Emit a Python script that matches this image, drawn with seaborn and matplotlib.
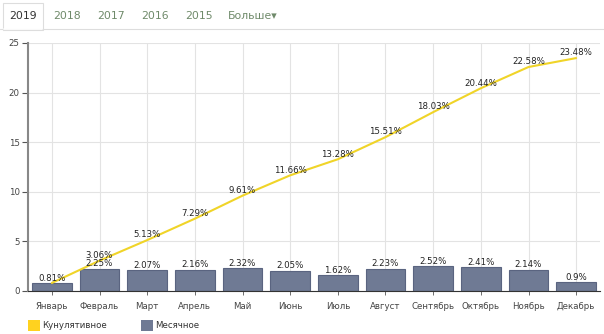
import matplotlib
matplotlib.use("Agg")
import matplotlib.pyplot as plt
import seaborn as sns
import pandas as pd
from matplotlib.patches import Rectangle
from matplotlib.lines import Line2D

months = ["Январь", "Февраль", "Март", "Апрель", "Май", "Июнь", "Июль",
          "Август", "Сентябрь", "Октябрь", "Ноябрь", "Декабрь"]
monthly = [0.81, 2.25, 2.07, 2.16, 2.32, 2.05, 1.62, 2.23, 2.52, 2.41, 2.14, 0.9]
monthly_labels = ["0.81%", "2.25%", "2.07%", "2.16%", "2.32%", "2.05%", "1.62%",
                  "2.23%", "2.52%", "2.41%", "2.14%", "0.9%"]
cumulative = [0.81, 3.06, 5.13, 7.29, 9.61, 11.66, 13.28, 15.51, 18.03, 20.44, 22.58, 23.48]
cum_labels = ["0.81%", "3.06%", "5.13%", "7.29%", "9.61%", "11.66%", "13.28%",
              "15.51%", "18.03%", "20.44%", "22.58%", "23.48%"]
tabs = ["2019", "2018", "2017", "2016", "2015", "Больше▾"]
legend_labels = ["Кунулятивное", "Месячное"]

BAR = "#6f7a94"
BAR_EDGE = "#5a6480"
LINE = "#f0d428"
FS = 6.2

sns.set_theme(style="white")
plt.rcParams['font.family'] = ['DejaVu Sans']

W, H = 604, 334
fig = plt.figure(figsize=(W / 100, H / 100), dpi=100)

def px(x0, y0, x1, y1):
    return [x0 / W, 1 - y1 / H, (x1 - x0) / W, (y1 - y0) / H]

ax = fig.add_axes(px(28, 43, 600, 291))
df = pd.DataFrame({"month": months, "monthly": monthly, "cum": cumulative})

sns.barplot(data=df, x="month", y="monthly", color=BAR, saturation=1,
            width=0.83, edgecolor=BAR_EDGE, linewidth=0.8, ax=ax, zorder=2)
sns.lineplot(x=list(range(len(months))), y=cumulative, color=LINE,
             linewidth=1.5, ax=ax, zorder=3)

for i, (v, t) in enumerate(zip(monthly, monthly_labels)):
    ax.annotate(t, (i, v), xytext=(0, 0.3), textcoords="offset points",
                ha="center", va="bottom", fontsize=FS, color="#222222", zorder=4)
for i, (v, t) in enumerate(zip(cumulative, cum_labels)):
    if i == 0:
        continue  # same label as the monthly one at the same spot
    ax.annotate(t, (i, v), xytext=(0, 0.5), textcoords="offset points",
                ha="center", va="bottom", fontsize=FS, color="#222222", zorder=4)

ax.set_xlim(-0.5, 11.5)
ax.set_ylim(0, 25)
ax.set_yticks([0, 5, 10, 15, 20, 25])
ax.set_xlabel("")
ax.set_ylabel("")
ax.grid(True, color="#e3e3e3", linewidth=0.8, zorder=0)
ax.set_axisbelow(True)
for s in ["top", "right"]:
    ax.spines[s].set_visible(False)
ax.spines["left"].set_color("#888888")
ax.spines["left"].set_linewidth(1.5)
ax.spines["bottom"].set_color("#333333")
ax.spines["bottom"].set_linewidth(0.8)
ax.tick_params(axis="y", left=True, length=4, width=0.8, color="#555555",
               labelsize=FS, labelcolor="#444444", pad=2)
ax.tick_params(axis="x", bottom=True, length=3, width=0.6, color="#555555",
               labelsize=FS, labelcolor="#444444", pad=5)

# tabs
fig.add_artist(Line2D([0, 1], [1 - 29 / H] * 2, color="#dddddd", linewidth=0.8,
                      transform=fig.transFigure))
fig.add_artist(Rectangle((3 / W, 1 - 29.5 / H), 40 / W, 26 / H, transform=fig.transFigure,
                         facecolor="white", edgecolor="#dddddd", linewidth=0.8))
fig.add_artist(Line2D([3.6 / W, 42.4 / W], [1 - 29 / H] * 2, color="white", linewidth=1.2,
                      transform=fig.transFigure))
tab_x = [23, 67, 111, 155, 199, 253]
for i, (t, x) in enumerate(zip(tabs, tab_x)):
    fig.text(x / W, 1 - 16 / H, t, ha="center", va="center", fontsize=7.8,
             color="#333333" if i == 0 else "#6f8a6a")

# legend
fig.add_artist(Rectangle((28 / W, 1 - 331 / H), 12 / W, 11 / H, transform=fig.transFigure,
                         facecolor="#ffd21f", edgecolor="none"))
fig.text(42 / W, 1 - 325.5 / H, legend_labels[0], ha="left", va="center",
         fontsize=FS, color="#333333")
fig.add_artist(Rectangle((141 / W, 1 - 331 / H), 12 / W, 11 / H, transform=fig.transFigure,
                         facecolor=BAR, edgecolor="none"))
fig.text(155 / W, 1 - 325.5 / H, legend_labels[1], ha="left", va="center",
         fontsize=FS, color="#333333")

fig.savefig("out.png", dpi=100)
